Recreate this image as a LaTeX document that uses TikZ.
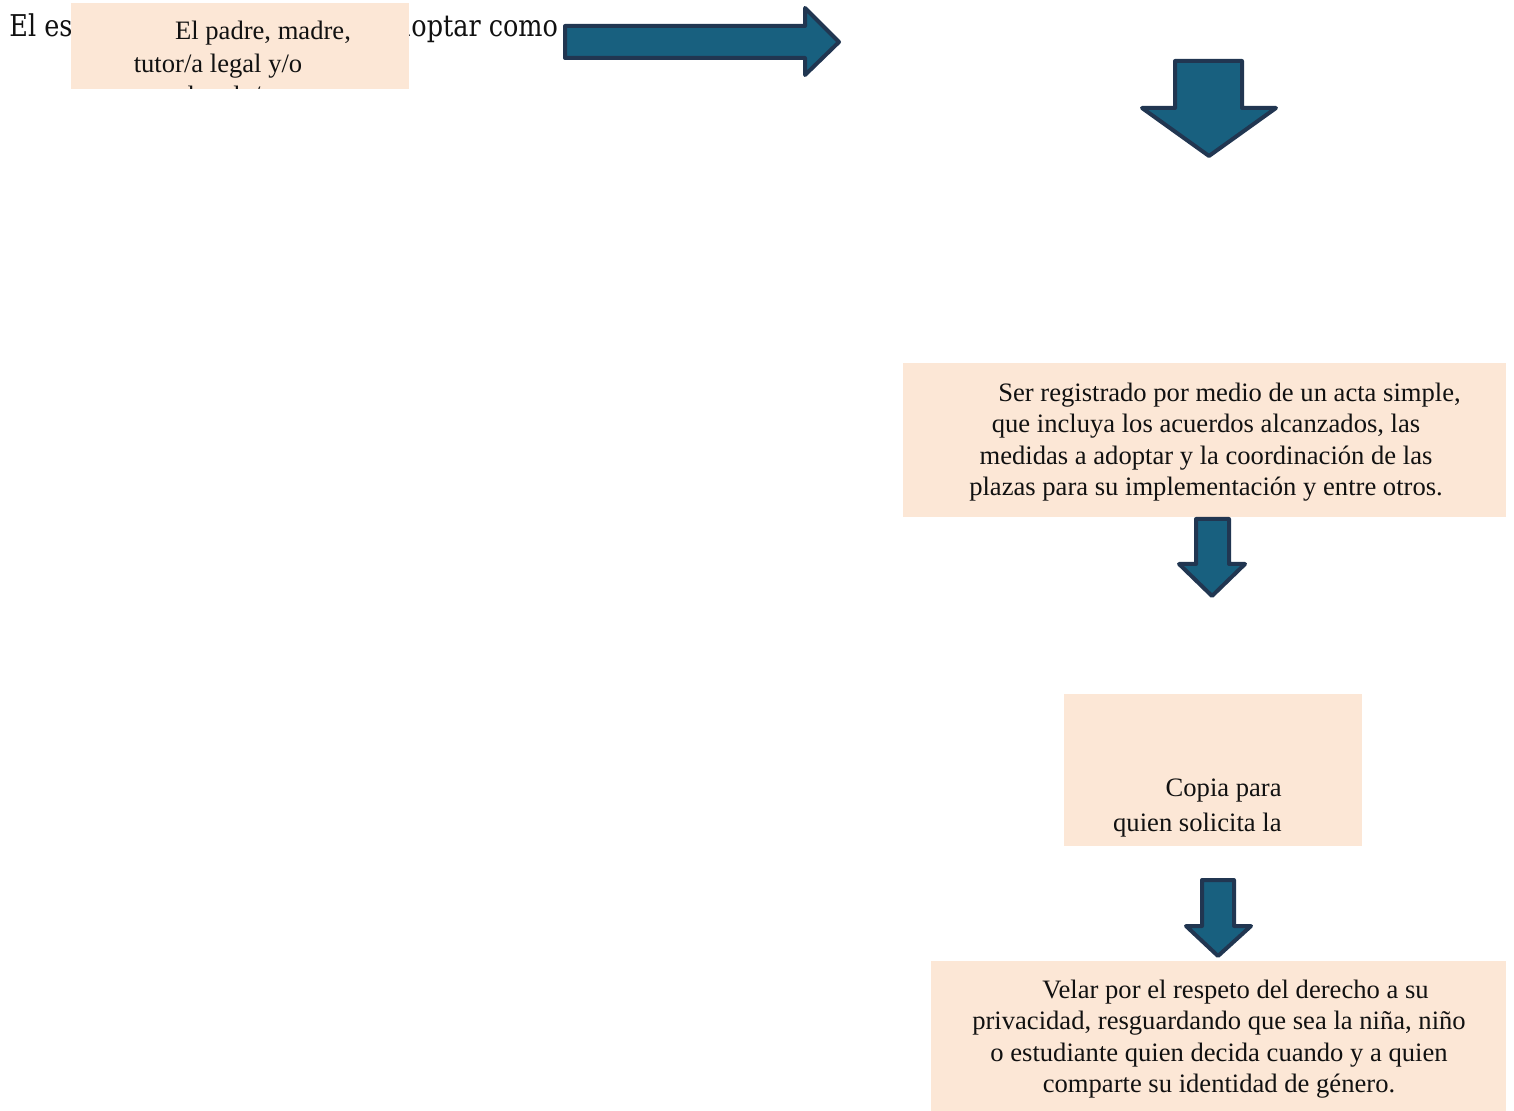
\documentclass[tikz,border=0pt]{standalone}
\usepackage{fontspec}
\setmainfont{Liberation Serif}
\newfontfamily\bgfont[FakeStretch=0.85]{DejaVu Serif}
\definecolor{peach}{HTML}{FCE7D6}
\definecolor{arrowfill}{HTML}{18607F}
\definecolor{arrowline}{HTML}{213651}
\definecolor{ink}{HTML}{111111}
\begin{document}
\begin{tikzpicture}[x=0.5pt,y=-0.5pt,
  box/.style={fill=peach, draw=none, inner sep=0, anchor=north west},
  blockarrow/.style={fill=arrowfill, draw=arrowline, line width=2pt, line join=round},
  txt/.style={font=\fontsize{13.3}{15.5}\selectfont, text=ink, inner sep=0, anchor=base},
  bgtxt/.style={font=\bgfont\fontsize{15}{18}\selectfont, text=ink, inner sep=0}]
\useasboundingbox (0,0) rectangle (1514,1111);
% background line of text, partly covered
\node[bgtxt, anchor=base west] (bgA) at (9,37) {El es};
\node[bgtxt, anchor=base east] (bgB) at (411,37) {ad};
\node[bgtxt, anchor=base west] (bgC) at (411,37) {optar como};
% top-left box
\node[box, minimum width=169pt, minimum height=43pt] (b1) at (71,3) {};
\begin{scope}
  \clip (71,3) rectangle (409,89);
  \node[txt] (t1a) at (263,40) {El padre, madre,};
  \node[txt] (t1b) at (218,73) {tutor/a legal y/o};
  \node[txt, anchor=base west] (t1c) at (142,105) {apoderado/a};
\end{scope}
% right arrow
\draw[blockarrow] (565,26) -- (805,26) -- (805,8) -- (839,42) -- (805,75) -- (805,58) -- (565,58) -- cycle;
% down arrow 1
\draw[blockarrow] (1175,61) -- (1242,61) -- (1242,108) -- (1276,108) -- (1209,156) -- (1142,108) -- (1175,108) -- cycle;
% box 2
\node[box, minimum width=301.5pt, minimum height=77pt] (b2) at (903,363) {};
\node[txt] (t2a) at (1229.5,402) {Ser registrado por medio de un acta simple,};
\node[txt] (t2b) at (1206,433) {que incluya los acuerdos alcanzados, las};
\node[txt] (t2c) at (1206,465) {medidas a adoptar y la coordinación de las};
\node[txt] (t2d) at (1206,496) {plazas para su implementación y entre otros.};
% down arrow 2
\draw[blockarrow] (1196,519) -- (1229,519) -- (1229,564) -- (1245,564) -- (1212,596) -- (1179,564) -- (1196,564) -- cycle;
% box 3
\node[box, minimum width=149pt, minimum height=76pt] (b3) at (1064,694) {};
\node[txt, anchor=base east] (t3a) at (1282,796) {Copia para};
\node[txt, anchor=base east] (t3b) at (1282,831) {quien solicita la};
% down arrow 3
\draw[blockarrow] (1202,880) -- (1234,880) -- (1234,926) -- (1251,926) -- (1218,956) -- (1186,926) -- (1202,926) -- cycle;
% box 4
\node[box, minimum width=287.5pt, minimum height=75pt] (b4) at (931,961) {};
\node[txt] (t4a) at (1235.5,998) {Velar por el respeto del derecho a su};
\node[txt] (t4b) at (1219,1029) {privacidad, resguardando que sea la niña, niño};
\node[txt] (t4c) at (1219,1061) {o estudiante quien decida cuando y a quien};
\node[txt] (t4d) at (1219,1092) {comparte su identidad de género.};
\end{tikzpicture}
\end{document}
